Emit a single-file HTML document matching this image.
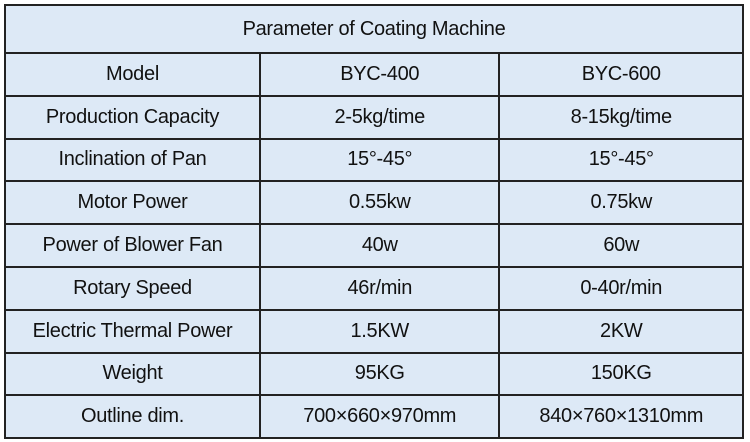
<!DOCTYPE html>
<html><head><meta charset="utf-8"><style>
body{margin:0;width:750px;height:442px;background:#fff;overflow:hidden;font-family:"Liberation Sans",Arial,sans-serif;}
table{position:absolute;left:4px;top:4px;width:740px;border-collapse:collapse;background:#dde9f6;}
td{border:2px solid #222;text-align:center;font-size:20px;color:#111;height:40.8px;padding:0;letter-spacing:-0.3px;}
td.t{height:46px;}
</style></head><body>
<table>
<colgroup><col style="width:256px"><col style="width:240px"><col style="width:244px"></colgroup>
<tr><td class="t" colspan="3">Parameter of Coating Machine</td></tr>
<tr><td>Model</td><td>BYC-400</td><td>BYC-600</td></tr>
<tr><td>Production Capacity</td><td>2-5kg/time</td><td>8-15kg/time</td></tr>
<tr><td>Inclination of Pan</td><td>15°-45°</td><td>15°-45°</td></tr>
<tr><td>Motor Power</td><td>0.55kw</td><td>0.75kw</td></tr>
<tr><td>Power of Blower Fan</td><td>40w</td><td>60w</td></tr>
<tr><td>Rotary Speed</td><td>46r/min</td><td>0-40r/min</td></tr>
<tr><td>Electric Thermal Power</td><td>1.5KW</td><td>2KW</td></tr>
<tr><td>Weight</td><td>95KG</td><td>150KG</td></tr>
<tr><td>Outline dim.</td><td>700×660×970mm</td><td>840×760×1310mm</td></tr>
</table>
</body></html>
